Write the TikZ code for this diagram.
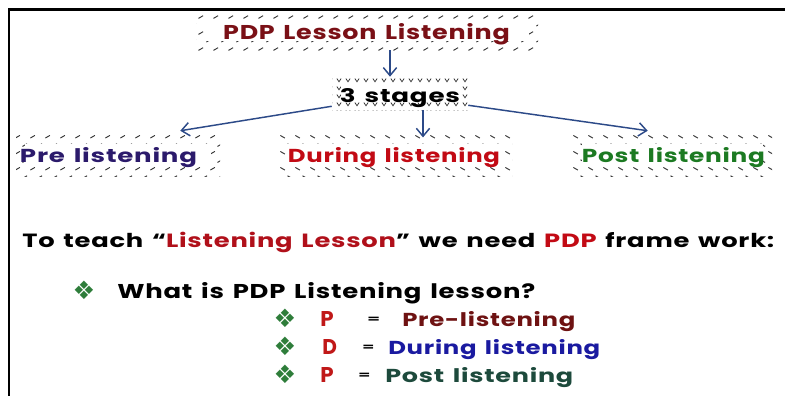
\documentclass[tikz,border=0pt]{standalone}
\usepackage{graphicx}
\usepackage{fontspec}
\setmainfont{Poppins}[LetterSpace=3, WordSpace=1.4]
\newfontfamily\dejavu{DejaVu Sans}
\usetikzlibrary{arrows.meta,patterns.meta}

\definecolor{titlered}{HTML}{7A1016}
\definecolor{preblue}{HTML}{2B1A6B}
\definecolor{durred}{HTML}{C20A14}
\definecolor{postgreen}{HTML}{1C7A22}
\definecolor{arrblue}{HTML}{2C4A88}
\definecolor{hatchgray}{HTML}{3A3A3A}
\definecolor{lessred}{HTML}{B0101A}
\definecolor{bulletgreen}{HTML}{2E7D3A}
\definecolor{letterred}{HTML}{C01818}
\definecolor{prelred}{HTML}{6E1212}
\definecolor{durblue}{HTML}{1A1AA0}
\definecolor{postteal}{HTML}{1D4A3C}

\tikzdeclarepattern{name=hne,
  bounding box={(0,0) and (11pt,12pt)}, tile size={(11pt,12pt)},
  code={\draw[line width=0.75pt] (1pt,1.5pt) -- (4.5pt,3.6pt) (6.5pt,7.5pt) -- (10pt,9.6pt);}}
\tikzdeclarepattern{name=hnw,
  bounding box={(0,0) and (11pt,12pt)}, tile size={(11pt,12pt)},
  code={\draw[line width=0.75pt] (1pt,3.6pt) -- (4.5pt,1.5pt) (6.5pt,9.6pt) -- (10pt,7.5pt);}}
\tikzdeclarepattern{name=hvee,
  bounding box={(0,0) and (7pt,6pt)}, tile size={(7pt,6pt)},
  code={\draw[line width=0.6pt] (1.5pt,4.5pt) -- (3.2pt,1.8pt) -- (4.9pt,4.5pt);}}

% text fitted to a width and a height (reference font is wider)
\newcommand\fitwh[3]{\resizebox{#1}{#2}{#3}}

\tikzset{
  hbox/.style={draw=none, inner sep=0pt,
    path picture={
      \fill[pattern=#1, pattern color=hatchgray]
        (path picture bounding box.south west) rectangle (path picture bounding box.north east);
      \fill[white]
        ([shift={(6.5pt,6.5pt)}]path picture bounding box.south west) rectangle
        ([shift={(-6.5pt,-6.5pt)}]path picture bounding box.north east);
    }},
  hbox/.default=hne,
  txt/.style={inner sep=0pt, font=\bfseries},
  arr/.style={draw=arrblue, line width=1.1pt, -{Straight Barb[length=6pt,width=10pt,line width=1.1pt]}},
  bul/.style={inner sep=0pt, text=bulletgreen, font=\dejavu\fontsize{19}{21}\selectfont},
}

\begin{document}
\begin{tikzpicture}[x=0.75pt,y=-0.75pt]
\useasboundingbox (0,0) rectangle (785,396);
\draw[line width=2pt, line join=miter] (9,396) -- (9,9.5) -- (785,9.5);

% boxes
\node[hbox=hne, minimum width=256.5pt, minimum height=28.5pt] (title) at (367,31) {};
\node[hbox=hvee, minimum width=102pt, minimum height=24.75pt] (stages) at (400,93.5) {};
\node[hbox=hne, minimum width=153pt, minimum height=30.75pt] (pre) at (118,155.5) {};
\node[hbox=hnw, minimum width=175.5pt, minimum height=30.75pt] (during) at (395,155.5) {};
\node[hbox=hnw, minimum width=149.25pt, minimum height=30.75pt] (post) at (672.5,155.5) {};

% box texts
\node[txt, anchor=base, text=titlered] (titletxt) at (366.5,40) {\fitwh{215pt}{12pt}{PDP Lesson Listening}};
\node[txt, anchor=base, text=black] (stagestxt) at (400,102) {\fitwh{90pt}{10.5pt}{3 stages}};
\node[txt, anchor=base, text=preblue] (pretxt) at (108.5,162) {\fitwh{132.75pt}{11.25pt}{Pre listening}};
\node[txt, anchor=base, text=durred] (durtxt) at (394,162) {\fitwh{159pt}{11.25pt}{During listening}};
\node[txt, anchor=base, text=postgreen] (posttxt) at (673.5,162) {\fitwh{137.25pt}{11.25pt}{Post listening}};

% arrows
\draw[arr] ([xshift=17.25pt]title.south) -- ([xshift=-7.5pt]stages.north);
\draw[arr] ([yshift=3pt]stages.south west) -- ([xshift=-30pt,yshift=3pt]pre.north east);
\draw[arr] ([xshift=17.25pt]stages.south) -- ([xshift=21pt,yshift=-2pt]during.north);
\draw[arr] ([yshift=3.75pt]stages.south east) -- ([xshift=56.25pt,yshift=3pt]post.north west);

% teach line
\node[txt, anchor=base west] (teach) at (22,247) {\fitwh{564pt}{11.5pt}{To teach “\textcolor{lessred}{Listening Lesson}” we need \textcolor{durred}{PDP} frame work:}};

% bullets
\node[bul] (b0) at (84,290) {❖};
\node[txt, anchor=base west] (what) at (117,298) {\fitwh{313.5pt}{12pt}{What is PDP Listening lesson?}};

\node[bul] (b1) at (285,318) {❖};
\node[txt, anchor=base west, text=letterred] (p1) at (320,326) {\fitwh{10pt}{11.25pt}{P}};
\node[txt, anchor=base west] (e1) at (367,322) {\fitwh{9.5pt}{4pt}{=}};
\node[txt, anchor=base west, text=prelred] (t1) at (402,326) {\fitwh{129.75pt}{11.25pt}{Pre-listening}};

\node[bul] (b2) at (285,346) {❖};
\node[txt, anchor=base west, text=letterred] (p2) at (322,354) {\fitwh{11pt}{11.25pt}{D}};
\node[txt, anchor=base west] (e2) at (362,350) {\fitwh{9pt}{4pt}{=}};
\node[txt, anchor=base west, text=durblue] (t2) at (388,354) {\fitwh{159pt}{11.25pt}{During listening}};

\node[bul] (b3) at (285,374) {❖};
\node[txt, anchor=base west, text=letterred] (p3) at (320,382) {\fitwh{10pt}{11.25pt}{P}};
\node[txt, anchor=base west] (e3) at (358,378) {\fitwh{9pt}{4pt}{=}};
\node[txt, anchor=base west, text=postteal] (t3) at (385,382) {\fitwh{141pt}{11.25pt}{Post listening}};
\end{tikzpicture}
\end{document}
